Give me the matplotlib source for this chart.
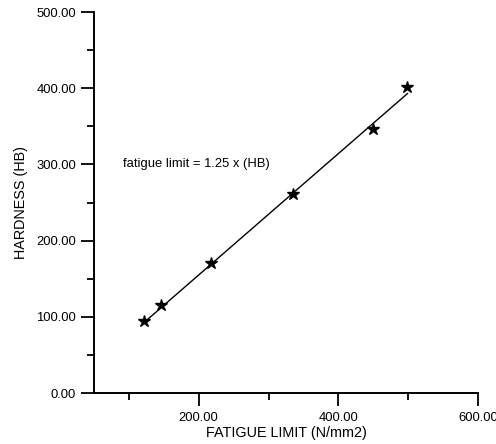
import matplotlib
matplotlib.use("Agg")
import matplotlib.pyplot as plt
from matplotlib.ticker import MultipleLocator, FormatStrFormatter

plt.rcParams['font.family'] = ['Liberation Sans', 'DejaVu Sans']

# data
fatigue = [121, 146, 217, 335, 450, 499]
hardness = [95, 116, 170, 261, 346, 401]
fit_x = [121, 499]
fit_y = [92, 393]
x_ticks = [200, 400, 600]
y_ticks = [0, 100, 200, 300, 400, 500]
annotation = "fatigue limit = 1.25 x (HB)"

fig = plt.figure(figsize=(4.96, 4.44), dpi=100)
ax = fig.add_axes([94/496, 1-393/444, (478-94)/496, (393-12)/444])

ax.plot(fit_x, fit_y, color='black', lw=1.0)
ax.plot(fatigue, hardness, linestyle='none', marker='*', color='black', markersize=9)

ax.set_xlim(50, 600)
ax.set_ylim(0, 500)
ax.set_xticks(x_ticks)
ax.set_yticks(y_ticks)
ax.xaxis.set_minor_locator(MultipleLocator(100))
ax.yaxis.set_minor_locator(MultipleLocator(50))
ax.xaxis.set_major_formatter(FormatStrFormatter('%.2f'))
ax.yaxis.set_major_formatter(FormatStrFormatter('%.2f'))

for s in ['top', 'right']:
    ax.spines[s].set_visible(False)
for s in ['left', 'bottom']:
    ax.spines[s].set_linewidth(1.4)

ax.tick_params(which='major', direction='out', length=9.4, width=1.3, labelsize=9.4)
ax.tick_params(which='minor', direction='out', length=5, width=1.3)
ax.tick_params(axis='y', which='major', pad=3.6)
ax.tick_params(axis='x', which='major', pad=4.5)

ax.text(91, 300, annotation, fontsize=9.4, va='center', ha='left')

ax.set_xlabel("FATIGUE LIMIT (N/mm2)", fontsize=10.4, labelpad=1)
ax.set_ylabel("HARDNESS (HB)", fontsize=10.4, labelpad=6)

fig.savefig("out.png", dpi=100)
